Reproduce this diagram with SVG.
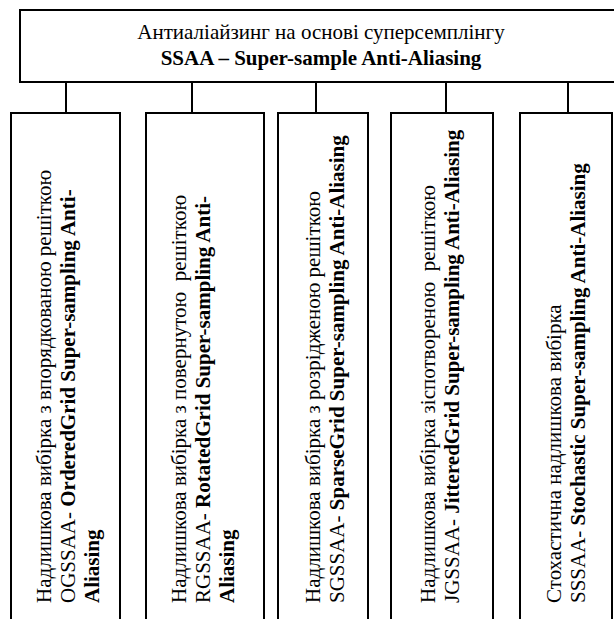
<svg xmlns="http://www.w3.org/2000/svg" width="614" height="619" viewBox="0 0 614 619">
<style>
.box{fill:#fff;stroke:#000;stroke-width:2}
.conn{stroke:#000;stroke-width:2;fill:none}
text{font-family:"Liberation Serif","Times New Roman",serif;font-size:21px;fill:#000}
.b{font-weight:bold}
</style>
<rect width="614" height="619" fill="#fff"/>
<g id="connectors">
<line class="conn" x1="66" y1="82" x2="66" y2="113"/>
<line class="conn" x1="192" y1="82" x2="192" y2="113"/>
<line class="conn" x1="316" y1="82" x2="316" y2="113"/>
<line class="conn" x1="446" y1="82" x2="446" y2="113"/>
<line class="conn" x1="568" y1="82" x2="568" y2="113"/>
</g>
<g id="root">
<rect class="box" x="20" y="10" width="640" height="72"/>
<text x="321" y="39" text-anchor="middle">Антиаліайзинг на основі суперсемплінгу</text>
<text x="321" y="65" text-anchor="middle" class="b">SSAA – Super-sample Anti-Aliasing</text>
</g>
<g id="ogssaa">
<rect class="box" x="11" y="113" width="109" height="540"/>
<text transform="translate(51,603) rotate(-90)"><tspan x="0" y="0">Надлишкова вибірка з впорядкованою решіткою</tspan><tspan x="0" y="24">OGSSAA- <tspan class="b">OrderedGrid Super-sampling Anti-</tspan></tspan><tspan x="0" y="48" class="b">Aliasing</tspan></text>
</g>
<g id="rgssaa">
<rect class="box" x="146" y="113" width="118" height="540"/>
<text xml:space="preserve" transform="translate(186,603) rotate(-90)"><tspan x="0" y="0">Надлишкова вибірка з повернутою  решіткою</tspan><tspan x="0" y="24">RGSSAA- <tspan class="b">RotatedGrid Super-sampling Anti-</tspan></tspan><tspan x="0" y="48" class="b">Aliasing</tspan></text>
</g>
<g id="sgssaa">
<rect class="box" x="278" y="113" width="90" height="540"/>
<text transform="translate(320,603) rotate(-90)"><tspan x="0" y="0">Надлишкова вибірка з розрідженою решіткою</tspan><tspan x="0" y="24">SGSSAA- <tspan class="b">SparseGrid Super-sampling Anti-Aliasing</tspan></tspan></text>
</g>
<g id="jgssaa">
<rect class="box" x="391" y="113" width="102" height="540"/>
<text xml:space="preserve" transform="translate(435,603) rotate(-90)"><tspan x="0" y="0">Надлишкова вибірка зіспотвореною  решіткою</tspan><tspan x="0" y="24">JGSSAA- <tspan class="b">JitteredGrid Super-sampling Anti-Aliasing</tspan></tspan></text>
</g>
<g id="sssaa">
<rect class="box" x="520" y="113" width="92" height="540"/>
<text transform="translate(561,603) rotate(-90)"><tspan x="0" y="0">Стохастична надлишкова вибірка</tspan><tspan x="0" y="24">SSSAA- <tspan class="b">Stochastic Super-sampling Anti-Aliasing</tspan></tspan></text>
</g>
</svg>
